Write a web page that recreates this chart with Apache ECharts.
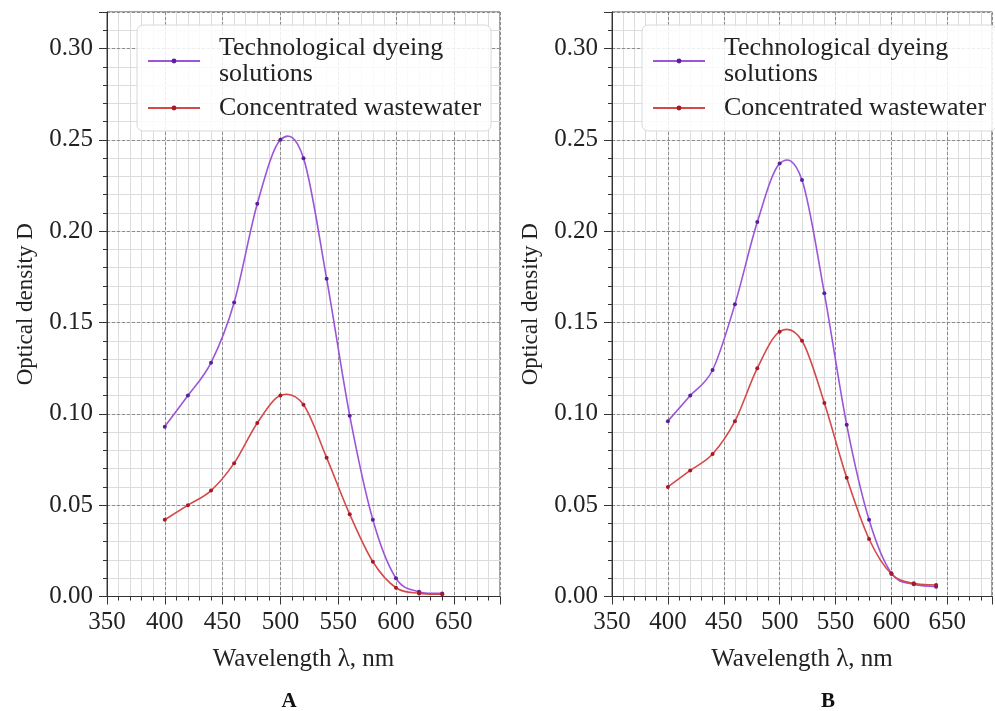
<!DOCTYPE html>
<html>

<head>
  <meta charset="UTF-8">
  <title>Optical density spectra</title>
  <script src="https://cdn.jsdelivr.net/npm/echarts@6/dist/echarts.min.js"></script>
  <style>
    html,
    body {
      margin: 0;
      padding: 0;
      background: #fff;
    }

    #chart {
      width: 995px;
      height: 711px;
    }
  </style>
</head>

<body>
  <div id="chart"></div>
  <script>
    // wavelengths, nm
    const wavelength = [400, 420, 440, 460, 480, 500, 520, 540, 560, 580, 600, 620, 640];

    // panel A
    const dyeingA = [0.093, 0.110, 0.128, 0.161, 0.215, 0.250, 0.240, 0.174, 0.099, 0.042, 0.010, 0.0026, 0.0017];
    const wasteA = [0.042, 0.050, 0.058, 0.073, 0.095, 0.110, 0.105, 0.076, 0.045, 0.019, 0.0048, 0.0017, 0.0012];

    // panel B
    const dyeingB = [0.096, 0.110, 0.124, 0.160, 0.205, 0.237, 0.228, 0.166, 0.094, 0.042, 0.0127, 0.0067, 0.0054];
    const wasteB = [0.060, 0.069, 0.078, 0.096, 0.125, 0.145, 0.140, 0.106, 0.065, 0.0315, 0.0123, 0.0072, 0.0063];

    const seriesNames = ['Technological dyeing\nsolutions', 'Concentrated wastewater'];
    const panelLabels = ['A', 'B'];

    const FONT = 'Liberation Serif';
    const purple = '#9b55d8', purpleDot = '#5b1f9a';
    const red = '#d44a4a', redDot = '#a8182a';

    const chart = echarts.init(document.getElementById('chart'));

    const grids = [
      { left: 107, right: 495, top: 12, bottom: 114.5 },
      { left: 612, right: -8, top: 12, bottom: 114.5 }
    ];

    function mainX(g) {
      return {
        type: 'value', gridIndex: g, position: 'bottom', min: 350, max: 690, interval: 50, z: 3,
        name: 'Wavelength λ, nm', nameLocation: 'middle', nameGap: 50,
        nameTextStyle: { fontFamily: FONT, fontSize: 25, color: '#222' },
        axisLine: { lineStyle: { color: '#333', width: 1 } },
        axisTick: { inside: false, length: 8, lineStyle: { color: '#333' } },
        axisLabel: {
          fontFamily: FONT, fontSize: 25, color: '#222', margin: 13,
          formatter: v => (v % 50 === 0 ? String(v) : '')
        },
        splitLine: { show: true, lineStyle: { color: '#777', type: [3, 2], width: 0.8 } }
      };
    }

    function minorX(g) {
      return {
        type: 'value', gridIndex: g, position: 'bottom', min: 350, max: 690, interval: 10, z: 1,
        axisLine: { show: false },
        axisTick: { length: 4, lineStyle: { color: '#333' } },
        axisLabel: { show: false },
        splitLine: { show: true, lineStyle: { color: '#dcdcdc', width: 1 } }
      };
    }

    function mainY(g) {
      return {
        type: 'value', gridIndex: g, position: 'left', min: 0, max: 0.32, interval: 0.05, z: 3,
        name: 'Optical density D', nameLocation: 'middle', nameGap: 70,
        nameTextStyle: { fontFamily: FONT, fontSize: 23, color: '#222' },
        axisLine: { show: true, lineStyle: { color: '#333', width: 1 } },
        axisTick: { show: true, length: 8, lineStyle: { color: '#333' } },
        axisLabel: {
          fontFamily: FONT, fontSize: 25, color: '#222', margin: 14,
          formatter: v => {
            const k = v / 0.05;
            return Math.abs(k - Math.round(k)) < 1e-6 ? v.toFixed(2) : '';
          }
        },
        splitLine: { show: true, lineStyle: { color: '#777', type: [3, 2], width: 0.8 } }
      };
    }

    function minorY(g) {
      return {
        type: 'value', gridIndex: g, position: 'left', min: 0, max: 0.32, interval: 0.01, z: 1,
        axisLine: { show: false },
        axisTick: { show: true, length: 4, lineStyle: { color: '#333' } },
        axisLabel: { show: false },
        splitLine: { show: true, lineStyle: { color: '#dcdcdc', width: 1 } }
      };
    }

    // markers only; the curve itself is drawn by the spline series below
    function dots(name, values, g, color, dot) {
      return {
        name: name, type: 'line', xAxisIndex: g * 2, yAxisIndex: g * 2,
        symbol: 'circle', symbolSize: 4, z: 6,
        lineStyle: { color: color, width: 1.6, opacity: 0 },
        itemStyle: { color: dot },
        data: wavelength.map((x, i) => [x, values[i]])
      };
    }

    // cubic (Catmull-Rom) curve through the measured points, segment by segment
    function spline(name, values, g, color) {
      const n = wavelength.length;
      return {
        name: name, type: 'custom', xAxisIndex: g * 2, yAxisIndex: g * 2, z: 5,
        clip: true,
        data: wavelength.map((x, i) => [x, values[i]]),
        renderItem: function (params, api) {
          const i = params.dataIndex;
          if (i >= n - 1) return null;
          const P = k => api.coord([wavelength[k], values[k]]);
          const p0 = P(Math.max(i - 1, 0)), p1 = P(i), p2 = P(i + 1), p3 = P(Math.min(i + 2, n - 1));
          const t1 = i === 0 ? [p2[0] - p1[0], p2[1] - p1[1]] : [(p2[0] - p0[0]) / 2, (p2[1] - p0[1]) / 2];
          const t2 = i + 1 === n - 1 ? [p2[0] - p1[0], p2[1] - p1[1]] : [(p3[0] - p1[0]) / 2, (p3[1] - p1[1]) / 2];
          return {
            type: 'bezierCurve',
            shape: {
              x1: p1[0], y1: p1[1], x2: p2[0], y2: p2[1],
              cpx1: p1[0] + t1[0] / 3, cpy1: p1[1] + t1[1] / 3,
              cpx2: p2[0] - t2[0] / 3, cpy2: p2[1] - t2[1] / 3
            },
            style: { stroke: color, lineWidth: 1.6, fill: null }
          };
        }
      };
    }

    function legendFor(g) {
      return {
        left: grids[g].left + 30, top: 25, orient: 'vertical',
        padding: [10, 10, 10, 10], itemGap: 8, itemWidth: 52, itemHeight: 6,
        backgroundColor: 'rgba(255,255,255,0.85)', borderColor: '#d8d8d8', borderWidth: 1, borderRadius: 6,
        lineStyle: { opacity: 1 },
        textStyle: { fontFamily: FONT, fontSize: 26, color: '#222', lineHeight: 26, padding: [0, 0, 0, 14] },
        data: seriesNames
      };
    }

    const option = {
      animation: false,
      grid: grids.map(g => Object.assign({ show: true, borderColor: '#444', borderWidth: 1, backgroundColor: 'transparent' }, g)),
      xAxis: [mainX(0), minorX(0), mainX(1), minorX(1)],
      yAxis: [mainY(0), minorY(0), mainY(1), minorY(1)],
      legend: [legendFor(0), legendFor(1)],
      series: [
        dots(seriesNames[0], dyeingA, 0, purple, purpleDot),
        dots(seriesNames[1], wasteA, 0, red, redDot),
        dots(seriesNames[0], dyeingB, 1, purple, purpleDot),
        dots(seriesNames[1], wasteB, 1, red, redDot),
        spline(seriesNames[0], dyeingA, 0, purple),
        spline(seriesNames[1], wasteA, 0, red),
        spline(seriesNames[0], dyeingB, 1, purple),
        spline(seriesNames[1], wasteB, 1, red)
      ],
      graphic: [
        { type: 'text', x: 289, y: 702, style: { text: panelLabels[0], font: 'bold 21px "Liberation Serif"', fill: '#111', align: 'center', verticalAlign: 'middle' } },
        { type: 'text', x: 828, y: 702, style: { text: panelLabels[1], font: 'bold 21px "Liberation Serif"', fill: '#111', align: 'center', verticalAlign: 'middle' } }
      ]
    };

    chart.setOption(option);
  </script>
</body>

</html>
